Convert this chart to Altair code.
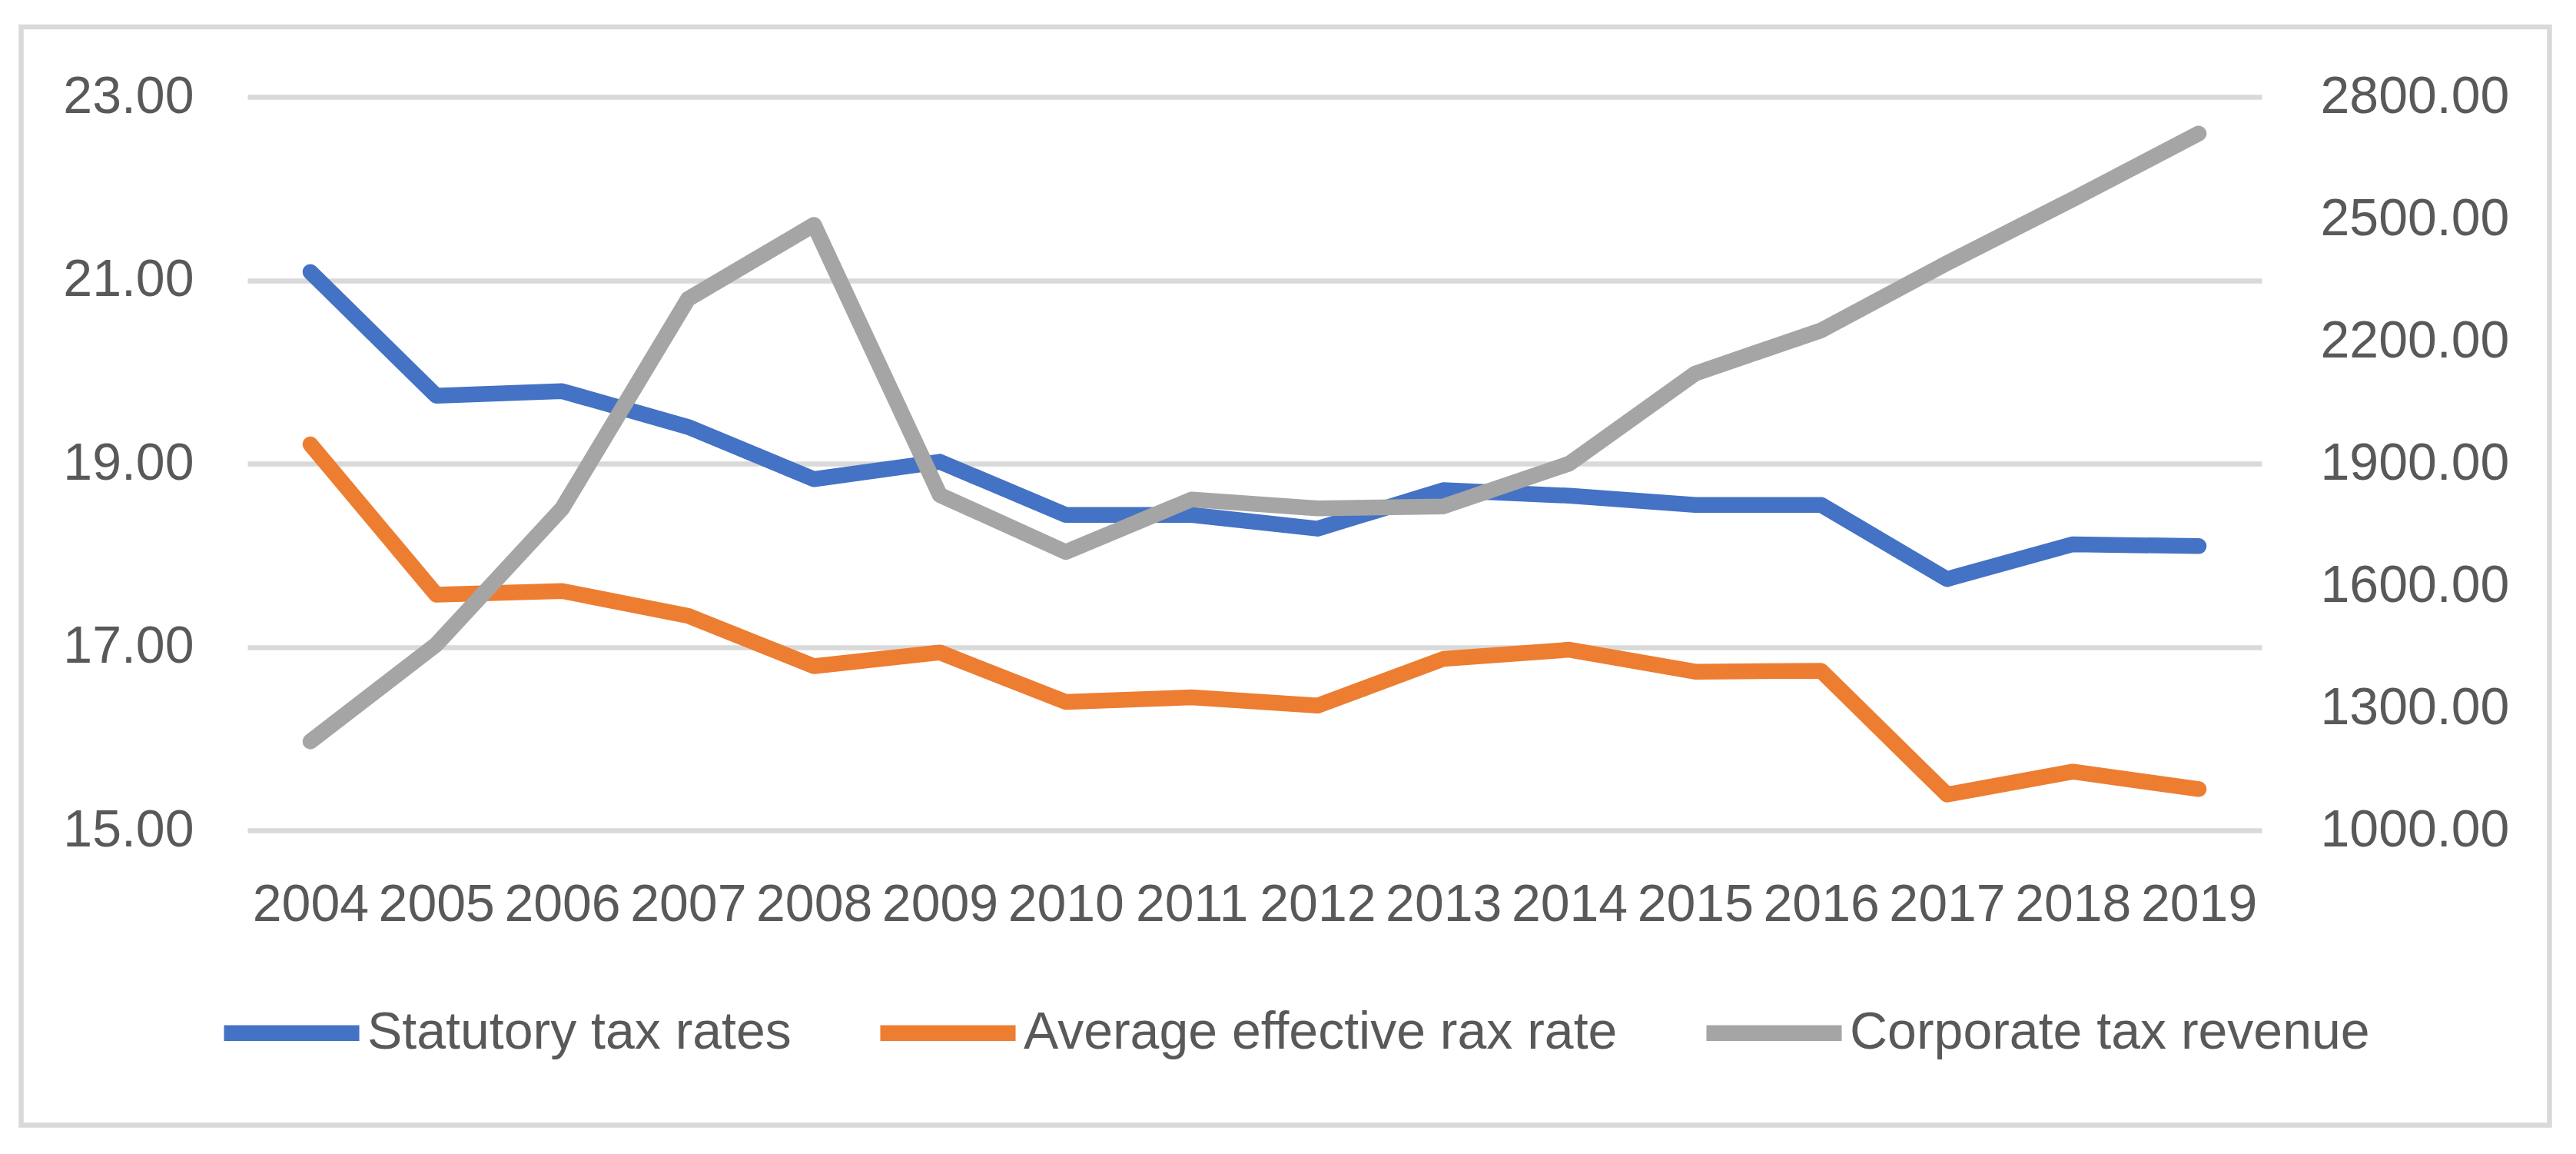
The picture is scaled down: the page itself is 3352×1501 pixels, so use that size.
import altair as alt
import pandas as pd

years = [str(y) for y in range(2004, 2020)]
statutory = [21.09, 19.74, 19.79, 19.40, 18.83, 19.02, 18.44, 18.44, 18.29, 18.71, 18.65, 18.55, 18.55, 17.74, 18.12, 18.10]
effective = [19.21, 17.57, 17.61, 17.34, 16.79, 16.94, 16.40, 16.45, 16.36, 16.87, 16.97, 16.73, 16.74, 15.39, 15.64, 15.45]
revenue = [1218, 1456, 1790, 2304, 2486, 1823, 1683, 1812, 1790, 1795, 1900, 2121, 2227, 2392, 2549, 2710]

names = ["Statutory tax rates", "Average effective rax rate", "Corporate tax revenue"]
colors = ["#4472C4", "#ED7D31", "#A5A5A5"]
left_ticks = [15, 17, 19, 21, 23]
right_ticks = [1000, 1300, 1600, 1900, 2200, 2500, 2800]

left_df = pd.DataFrame({
    "year": years * 2,
    "value": statutory + effective,
    "series": [names[0]] * len(years) + [names[1]] * len(years),
})
right_df = pd.DataFrame({"year": years, "value": revenue, "series": [names[2]] * len(years)})

W, H = 2621, 954
FONT = "Liberation Sans"
TXT = "#595959"
FS = 68
GRID = "#D9D9D9"
LW = 20.5

color = alt.Color(
    "series:N",
    scale=alt.Scale(domain=names, range=colors),
    legend=alt.Legend(
        title=None, orient="none", direction="horizontal",
        legendX=-41, legendY=1119,
        symbolType="stroke", symbolStrokeWidth=LW, symbolSize=31000,
        labelFontSize=FS, labelFont=FONT, labelColor=TXT,
        labelOffset=0, columnPadding=74, padding=0, labelLimit=2000,
    ),
)

x = alt.X(
    "year:O", sort=years,
    axis=alt.Axis(title=None, labelAngle=0, domain=False, ticks=False, tickSize=0,
                  labelPadding=63, labelFontSize=FS, labelFont=FONT, labelColor=TXT, grid=False),
)

line_kw = dict(strokeWidth=LW, strokeCap="round", strokeJoin="round")

left = alt.Chart(left_df).mark_line(**line_kw).encode(
    x=x,
    y=alt.Y("value:Q", scale=alt.Scale(domain=[15, 23], zero=False, nice=False),
            axis=alt.Axis(values=left_ticks, format=".2f", title=None, domain=False, ticks=False,
                          tickSize=0, labelPadding=70, labelFontSize=FS, labelFont=FONT,
                          labelColor=TXT, labelLimit=1000, grid=True, gridColor=GRID, gridWidth=6.5)),
    color=color,
)

right = alt.Chart(right_df).mark_line(**line_kw).encode(
    x=x,
    y=alt.Y("value:Q", scale=alt.Scale(domain=[1000, 2800], zero=False, nice=False),
            axis=alt.Axis(values=right_ticks, format=".2f", title=None, orient="right", domain=False,
                          ticks=False, tickSize=0, labelPadding=76, labelFontSize=FS, labelFont=FONT,
                          labelColor=TXT, labelLimit=1000, grid=False)),
    color=color,
)

frame = alt.Chart(pd.DataFrame({"f": [0]})).mark_rect(
    filled=False, color=GRID, stroke=GRID, strokeWidth=6.5
).encode(x=alt.value(-294.5), x2=alt.value(2995.5), y=alt.value(-91), y2=alt.value(1337.5))

chart = alt.layer(frame, left, right).resolve_scale(y="independent").properties(
    width=W, height=H,
    padding={"left": 314, "top": 118, "right": 380, "bottom": 390},
    autosize=alt.AutoSizeParams(type="none"),
).configure_view(stroke="transparent")

chart.save("out.html", embed_options={"renderer": "svg", "actions": False})
